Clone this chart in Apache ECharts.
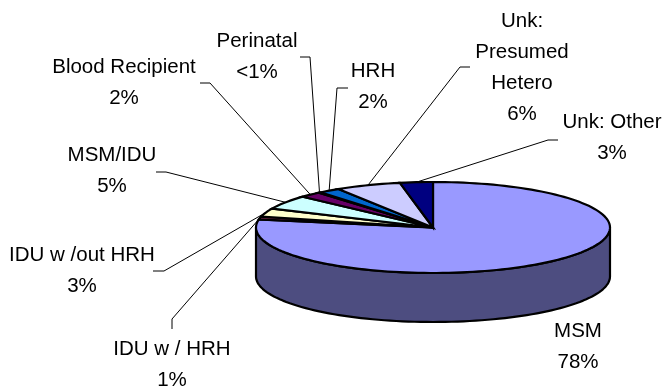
<!DOCTYPE html>
<html>
<head>
<meta charset="utf-8">
<style>html,body{margin:0;padding:0;background:#fff}#chart{width:665px;height:389px}</style>
<script src="https://cdn.jsdelivr.net/npm/echarts@6/dist/echarts.min.js"></script>
</head>
<body>
<div id="chart"></div>
<script>
// Exposure categories, clockwise from twelve o'clock.
const categories = ['MSM', 'IDU w / HRH', 'IDU w /out HRH', 'MSM/IDU', 'Blood Recipient', 'Perinatal', 'HRH', 'Unk:\nPresumed\nHetero', 'Unk: Other'];
const shareValues = [78, 1, 3, 5, 2, 0.2, 2, 6, 3];
const shareLabels = ['78%', '1%', '3%', '5%', '2%', '<1%', '2%', '6%', '3%'];
const topColours = ['#9999ff', '#993366', '#ffffcc', '#ccffff', '#660066', '#ff8080', '#0066cc', '#ccccff', '#000080'];
const sideColours = ['#4d4d80', '#4d1a33', '#808066', '#668080', '#330033', '#804040', '#003366', '#666680', '#000040'];

// Label centres and the elbow of each leader line.
const labelCentres = [[578, 347], [172, 365], [82, 271], [112, 171], [124, 83], [257, 57], [373, 87], [522, 67.5], [612, 138]];
const leaderElbows = [
  null,
  [[172, 329], [172, 319]],
  [[153, 271], [164, 271]],
  [[156, 172], [166, 172]],
  [[200, 83], [210, 83]],
  [[300, 57], [310, 57]],
  [[348, 88], [337, 88]],
  [[470, 67], [460, 67]],
  [[558, 140], [548, 140]]
];

// Tilted-disc geometry: top ellipse and the height of its rim.
const disc = { cx: 433, cy: 227.5, rx: 177, ry: 45.5, depth: 49 };
const total = shareValues.reduce((a, b) => a + b, 0);
const TWO_PI = Math.PI * 2;

function sliceAngles(index) {
  let before = 0;
  for (let i = 0; i < index; i++) before += shareValues[i];
  return [before / total * TWO_PI, (before + shareValues[index]) / total * TWO_PI];
}
function rimPoint(angle, drop) {
  return [disc.cx + disc.rx * Math.sin(angle), disc.cy - disc.ry * Math.cos(angle) + (drop || 0)];
}
function arcPoints(from, to, drop) {
  const pts = [];
  const steps = Math.max(1, Math.ceil((to - from) / (Math.PI / 90)));
  for (let s = 0; s <= steps; s++) pts.push(rimPoint(from + (to - from) * s / steps, drop));
  return pts;
}

const seriesData = categories.map((name, i) => ({ name: name, value: [shareValues[i], i] }));

// The rim shows only along the front half of the disc.
function renderSide(params, api) {
  const i = api.value(1);
  const [a0, a1] = sliceAngles(i);
  const lo = Math.max(a0, Math.PI / 2);
  const hi = Math.min(a1, Math.PI * 1.5);
  if (hi <= lo) return { type: 'group', children: [] };
  const points = arcPoints(lo, hi, 0).concat(arcPoints(lo, hi, disc.depth).reverse());
  return { type: 'polygon', shape: { points }, style: { fill: sideColours[i], stroke: '#000', lineWidth: 2.2, lineJoin: 'round' } };
}
function renderTop(params, api) {
  const i = api.value(1);
  const [a0, a1] = sliceAngles(i);
  const points = [[disc.cx, disc.cy]].concat(arcPoints(a0, a1, 0));
  return { type: 'polygon', shape: { points }, style: { fill: topColours[i], stroke: '#000', lineWidth: 2.2, lineJoin: 'miter' } };
}
function renderLabel(params, api) {
  const i = api.value(1);
  const [a0, a1] = sliceAngles(i);
  const children = [{
    type: 'text',
    style: {
      x: labelCentres[i][0], y: labelCentres[i][1],
      text: categories[i] + '\n' + shareLabels[i],
      fill: '#000', font: '20.5px "Liberation Sans", Arial, sans-serif',
      lineHeight: 31, align: 'center', verticalAlign: 'middle'
    }
  }];
  if (leaderElbows[i]) {
    children.push({
      type: 'polyline',
      shape: { points: leaderElbows[i].concat([rimPoint((a0 + a1) / 2, 0)]) },
      style: { fill: null, stroke: '#000', lineWidth: 1 }
    });
  }
  return { type: 'group', children };
}

const chart = echarts.init(document.getElementById('chart'), null, { renderer: 'canvas' });
const layer = (renderItem) => ({
  type: 'custom', coordinateSystem: 'none', renderItem, data: seriesData,
  silent: true, animation: false, clip: false
});
chart.setOption({
  backgroundColor: '#fff',
  animation: false,
  series: [layer(renderSide), layer(renderTop), layer(renderLabel)]
});
</script>
</body>
</html>
